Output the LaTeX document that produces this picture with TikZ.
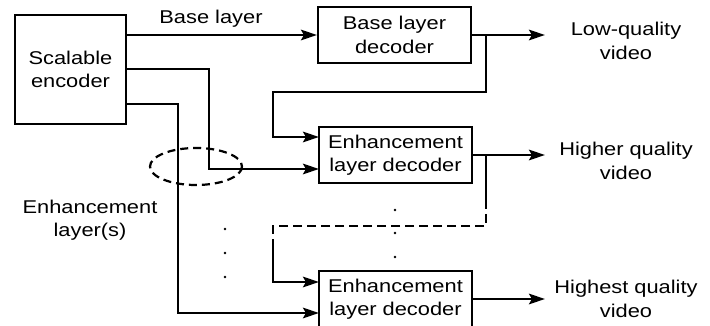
\documentclass[tikz,border=0pt]{standalone}
\usepackage{fontspec}
\setmainfont{Liberation Sans}[FakeStretch=1.18]
\usetikzlibrary{arrows.meta}
\tikzset{
  x=1pt, y=-1pt,
  every node/.style={font=\fontsize{18.5}{23.5}\selectfont, align=center, inner sep=0pt},
  blk/.style={draw, line width=2pt, minimum width=153pt, minimum height=56pt},
  wire/.style={line width=2.7pt},
  arr/.style={wire, -{Stealth[length=16pt, width=10.5pt, inset=3pt]}},
  dashwire/.style={wire, dash pattern=on 9pt off 5pt},
  dot/.style={fill, circle, minimum size=2.8pt}
}
\begin{document}
\begin{tikzpicture}
\useasboundingbox (0,0) rectangle (710,326);

% blocks
\node[blk, minimum width=111pt, minimum height=109pt] (enc) at (70.5,69.5) {Scalable\\encoder};
\node[blk] (bld)  at (394.5,35)  {Base layer\\decoder};
\node[blk] (eld1) at (395.5,155) {Enhancement\\layer decoder};
\node[blk] (eld2) at (395.5,299) {Enhancement\\layer decoder};

% output labels
\node (lq) at (626,41)  {Low-quality\\video};
\node (hq) at (626,161) {Higher quality\\video};
\node (hst) at (626,299) {Highest quality\\video};
\node (bl) at (211,19) {Base layer};
\node (el) at (90,220) {Enhancement\\layer(s)};

% routing points
\coordinate (j1)  at (209,69);
\coordinate (in1) at (319,169);
\coordinate (j2)  at (178,104);
\coordinate (in2) at (319,313);
\coordinate (fb0) at (486,35);
\coordinate (fb1) at (273,92);
\coordinate (fin1) at (319,137);
\coordinate (fb2) at (486,155);
\coordinate (fb3) at (486,200);
\coordinate (fb4) at (273,226);
\coordinate (fb5) at (273,243);
\coordinate (fin2) at (319,282);
\coordinate (o1) at (545,35);
\coordinate (o2) at (545,155);
\coordinate (o3) at (545,299);

% encoder outputs
\draw[arr] (enc.east |- bld.west) -- (bld.west);
\draw[arr] (enc.east |- j1) -- (j1) |- (in1);
\draw[arr] (enc.east |- j2) -- (j2) |- (in2);

% decoder outputs
\draw[arr] (bld.east) -- (o1);
\draw[arr] (eld1.east) -- (o2);
\draw[arr] (eld2.east) -- (o3);

% feedback from base layer decoder
\draw[arr] (fb0) -- (fb0 |- fb1) -- (fb1) -- (fin1 -| fb1) -- (fin1);

% feedback from enhancement layer decoder (dashed middle section)
\draw[wire] (fb2) -- (fb3);
\draw[dashwire] (fb3) -- (fb3 |- fb4) -- (fb4) -- (fb5);
\draw[arr] (fb5) -- (fin2 -| fb5) -- (fin2);

% grouping ellipse
\draw[line width=2.2pt, dash pattern=on 8pt off 5pt] (196,166.5) ellipse [x radius=46, y radius=18.5];

% continuation dots
\foreach \yy [count=\i] in {229,253,277} \node[dot] (dl\i) at (225,\yy) {};
\foreach \yy [count=\i] in {210,233,257} \node[dot] (dr\i) at (395,\yy) {};
\end{tikzpicture}
\end{document}
